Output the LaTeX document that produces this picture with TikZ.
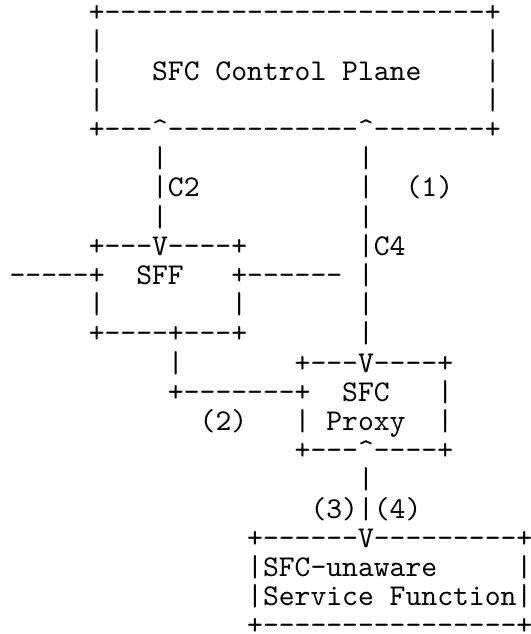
\documentclass[tikz,border=0pt]{standalone}
\usepackage{fontspec}
\usepackage{tikz}
\newfontfamily\asciitt{lmmono10-regular.otf}[Ligatures=TeXOff]
\tikzset{
  asc/.style={font=\asciitt\fontsize{30.17}{30}\selectfont,anchor=base west,inner sep=0pt,outer sep=0pt,text=black}
}
% one piece of text at column #2, line #3
\newcommand{\cell}[4]{\node[asc] (#1) at ({9.58+15.84*#2},{21.6+29.2*#3}) {#4};}
\newcommand{\crt}{\textasciicircum}

\begin{document}
\begin{tikzpicture}[x=1pt,y=-1pt]
\useasboundingbox (0,0) rectangle (530,634);
% control plane
\cell{cpTop}{5}{0}{+------------------------+}
\cell{cpL1}{5}{1}{|}\cell{cpR1}{30}{1}{|}
\cell{cpL2}{5}{2}{|}\cell{cpText}{9}{2}{SFC Control Plane}\cell{cpR2}{30}{2}{|}
\cell{cpL3}{5}{3}{|}\cell{cpR3}{30}{3}{|}
\cell{cpBot}{5}{4}{+---\crt{}------------\crt{}-------+}
% C2 and C4
\cell{ctwoA}{9}{5}{|}\cell{cfourA}{22}{5}{|}
\cell{ctwoB}{9}{6}{|C2}\cell{cfourB}{22}{6}{|}\cell{one}{25}{6}{(1)}
\cell{ctwoC}{9}{7}{|}\cell{cfourC}{22}{7}{|}
% SFF
\cell{sffTop}{5}{8}{+---V----+}\cell{cfourD}{22}{8}{|C4}
\cell{sffIn}{0}{9}{-----+}\cell{sffText}{8}{9}{SFF}\cell{sffOut}{14}{9}{+------}\cell{cfourE}{22}{9}{|}
\cell{sffL}{5}{10}{|}\cell{sffR}{14}{10}{|}\cell{cfourF}{22}{10}{|}
\cell{sffBot}{5}{11}{+----+---+}\cell{cfourG}{22}{11}{|}
% SFC proxy
\cell{linkA}{10}{12}{|}\cell{pxTop}{18}{12}{+---V----+}
\cell{linkB}{10}{13}{+-------+}\cell{pxText}{21}{13}{SFC}\cell{pxR1}{27}{13}{|}
\cell{two}{12}{14}{(2)}\cell{pxL}{18}{14}{|}\cell{pxTextB}{20}{14}{Proxy}\cell{pxR2}{27}{14}{|}
\cell{pxBot}{18}{15}{+---\crt{}----+}
\cell{pxDown}{22}{16}{|}
\cell{threefour}{19}{17}{(3)|(4)}
% SFC-unaware SF
\cell{sfTop}{15}{18}{+------V---------+}
\cell{sfText}{15}{19}{|SFC-unaware}\cell{sfR1}{32}{19}{|}
\cell{sfTextB}{15}{20}{|Service Function}\cell{sfR2}{32}{20}{|}
\cell{sfBot}{15}{21}{+----------------+}
\end{tikzpicture}
\end{document}
